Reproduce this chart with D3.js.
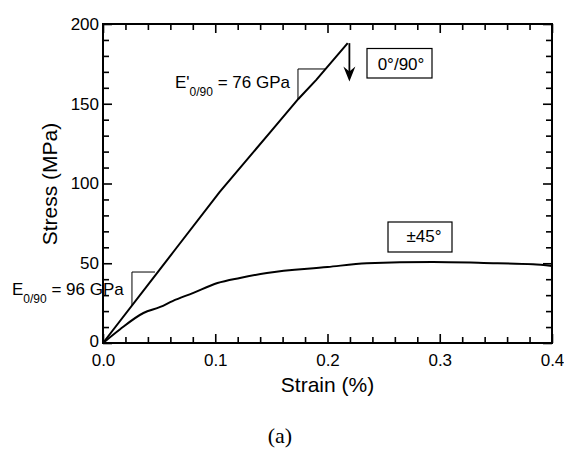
<!DOCTYPE html>
<html>
<head>
<meta charset="utf-8">
<script src="https://cdn.jsdelivr.net/npm/d3@7"></script>
<style>
  html, body { margin: 0; padding: 0; background: #fff; }
  svg { display: block; }
</style>
</head>
<body>
<svg id="chart" width="564" height="449"></svg>
<script>
// ---- data (strain %, stress MPa) ----
const strain090 = [0, 0.050, 0.064, 0.104, 0.150, 0.174, 0.190, 0.218];
const stress090 = [0, 45.5, 58.3, 94.7, 133, 153, 165, 188];

const strain45 = [0, 0.015, 0.036, 0.051, 0.062, 0.080, 0.102, 0.122, 0.146, 0.200, 0.235, 0.294, 0.339, 0.383, 0.400];
const stress45 = [0, 8.5, 18.8, 22.6, 26.3, 31.3, 37.6, 40.8, 43.9, 47.6, 50.0, 50.8, 50.2, 49.4, 48.3];

const xTicks = [0.0, 0.1, 0.2, 0.3, 0.4];
const xTickLabels = ["0.0", "0.1", "0.2", "0.3", "0.4"];
const yTicks = [0, 50, 100, 150, 200];
const yTickLabels = ["0", "50", "100", "150", "200"];

// slope triangles: [strainStart, strainEnd, stressTop]
const slopeLower = [0.0258, 0.0463, 44.5];
const slopeUpper = [0.1737, 0.1980, 171.8];
const modulusLower = 96;   // GPa (label only)
const modulusUpper = 76;

// failure arrow [strain, stressFrom, stressTo]
const arrowData = [0.2195, 188, 164];

// ---- layout ----
const SANS = "'Liberation Sans', Arial, Helvetica, sans-serif";
const SERIF = "'Liberation Serif', 'Times New Roman', serif";
const svg = d3.select("#chart").style("font-family", SANS);
const x = d3.scaleLinear().domain([0, 0.4]).range([103, 552]);
const y = d3.scaleLinear().domain([0, 200]).range([343, 24]);

svg.append("rect").attr("width", 564).attr("height", 449).attr("fill", "#fff");

const xMinor = d3.range(0, 0.4001, 0.02).filter(v => Math.abs(v * 10 - Math.round(v * 10)) > 1e-6);
const yMinor = d3.range(0, 200.01, 10).filter(v => v % 50 !== 0);

function styleAxis(g) {
  g.select(".domain").remove();
  g.selectAll(".tick line").attr("stroke", "#000").attr("stroke-width", 1.6);
  g.selectAll(".tick text").style("font-size", "17px").style("font-family", SANS).attr("fill", "#000");
}

// bottom
svg.append("g").attr("transform", `translate(0,${y(0)})`)
  .call(d3.axisBottom(x).tickValues(xTicks).tickFormat((d, i) => xTickLabels[i]).tickSize(-9).tickPadding(11))
  .call(styleAxis);
svg.append("g").attr("transform", `translate(0,${y(0)})`)
  .call(d3.axisBottom(x).tickValues(xMinor).tickFormat("").tickSize(-6))
  .call(styleAxis);
// top
svg.append("g").attr("transform", `translate(0,${y(200)})`)
  .call(d3.axisTop(x).tickValues(xTicks).tickFormat("").tickSize(-9))
  .call(styleAxis);
svg.append("g").attr("transform", `translate(0,${y(200)})`)
  .call(d3.axisTop(x).tickValues(xMinor).tickFormat("").tickSize(-6))
  .call(styleAxis);
// left
const leftAxis = svg.append("g").attr("transform", `translate(${x(0)},0)`)
  .call(d3.axisLeft(y).tickValues(yTicks).tickFormat((d, i) => yTickLabels[i]).tickSize(-9).tickPadding(4))
  .call(styleAxis);
leftAxis.selectAll(".tick text").filter(d => d === 0).attr("dy", "0.22em");
svg.append("g").attr("transform", `translate(${x(0)},0)`)
  .call(d3.axisLeft(y).tickValues(yMinor).tickFormat("").tickSize(-6))
  .call(styleAxis);
// right
svg.append("g").attr("transform", `translate(${x(0.4)},0)`)
  .call(d3.axisRight(y).tickValues(yTicks).tickFormat("").tickSize(-9))
  .call(styleAxis);
svg.append("g").attr("transform", `translate(${x(0.4)},0)`)
  .call(d3.axisRight(y).tickValues(yMinor).tickFormat("").tickSize(-6))
  .call(styleAxis);

// frame
svg.append("rect")
  .attr("x", x(0)).attr("y", y(200))
  .attr("width", x(0.4) - x(0)).attr("height", y(0) - y(200))
  .attr("fill", "none").attr("stroke", "#000").attr("stroke-width", 2);

// curves
const line = d3.line().x(d => x(d[0])).y(d => y(d[1]));
svg.append("path")
  .datum(strain090.map((s, i) => [s, stress090[i]]))
  .attr("d", line).attr("fill", "none").attr("stroke", "#000").attr("stroke-width", 2);
svg.append("path")
  .datum(strain45.map((s, i) => [s, stress45[i]]))
  .attr("d", line.curve(d3.curveMonotoneX)).attr("fill", "none").attr("stroke", "#000").attr("stroke-width", 2);

// slope triangles
function interp(xs, ys, v) {
  for (let i = 1; i < xs.length; i++) {
    if (v <= xs[i]) {
      const t = (v - xs[i - 1]) / (xs[i] - xs[i - 1]);
      return ys[i - 1] + t * (ys[i] - ys[i - 1]);
    }
  }
  return ys[ys.length - 1];
}
[slopeLower, slopeUpper].forEach(s => {
  const pts = [[s[0], interp(strain090, stress090, s[0])], [s[0], s[2]], [s[1], s[2]]];
  svg.append("path").attr("d", d3.line().x(d => x(d[0])).y(d => y(d[1]))(pts))
    .attr("fill", "none").attr("stroke", "#000").attr("stroke-width", 1);
});

// arrow
const ax = x(arrowData[0]), ay1 = y(arrowData[1]), ay2 = y(arrowData[2]);
svg.append("line").attr("x1", ax).attr("x2", ax).attr("y1", ay1).attr("y2", ay2 - 6)
  .attr("stroke", "#000").attr("stroke-width", 1.8);
svg.append("path")
  .attr("d", `M${ax},${ay2} L${ax - 6},${ay2 - 15} L${ax},${ay2 - 10} L${ax + 6},${ay2 - 15} Z`)
  .attr("fill", "#000");

// annotation labels
const tU = svg.append("text").attr("x", 175).attr("y", 88).style("font-size", "17px");
tU.append("tspan").text("E'");
tU.append("tspan").style("font-size", "12px").attr("dy", 8).text("0/90");
tU.append("tspan").attr("dy", -8).text(` = ${modulusUpper} GPa`);

const tL = svg.append("text").attr("x", 12).attr("y", 295).style("font-size", "17px");
tL.append("tspan").text("E");
tL.append("tspan").style("font-size", "12px").attr("dy", 8).text("0/90");
tL.append("tspan").attr("dy", -8).text(` = ${modulusLower} GPa`);

// legend boxes
svg.append("rect").attr("x", 367).attr("y", 48.5).attr("width", 65).attr("height", 29.5)
  .attr("fill", "#fff").attr("stroke", "#000").attr("stroke-width", 1.2);
svg.append("text").attr("x", 401).attr("y", 70).attr("text-anchor", "middle").style("font-size", "17px").text("0°/90°");

svg.append("rect").attr("x", 388).attr("y", 222).attr("width", 64).attr("height", 30)
  .attr("fill", "#fff").attr("stroke", "#000").attr("stroke-width", 1.2);
svg.append("text").attr("x", 424).attr("y", 242).attr("text-anchor", "middle").style("font-size", "17px").text("±45°");

// axis titles
svg.append("text").attr("x", 327.5).attr("y", 392).attr("text-anchor", "middle").style("font-size", "21px").text("Strain (%)");
svg.append("text").attr("transform", "translate(57,184) rotate(-90)").attr("text-anchor", "middle").style("font-size", "21px").text("Stress (MPa)");

// caption
svg.append("text").attr("x", 280).attr("y", 443).attr("text-anchor", "middle")
  .style("font-family", SERIF).style("font-size", "22px").text("(a)");
</script>
</body>
</html>
